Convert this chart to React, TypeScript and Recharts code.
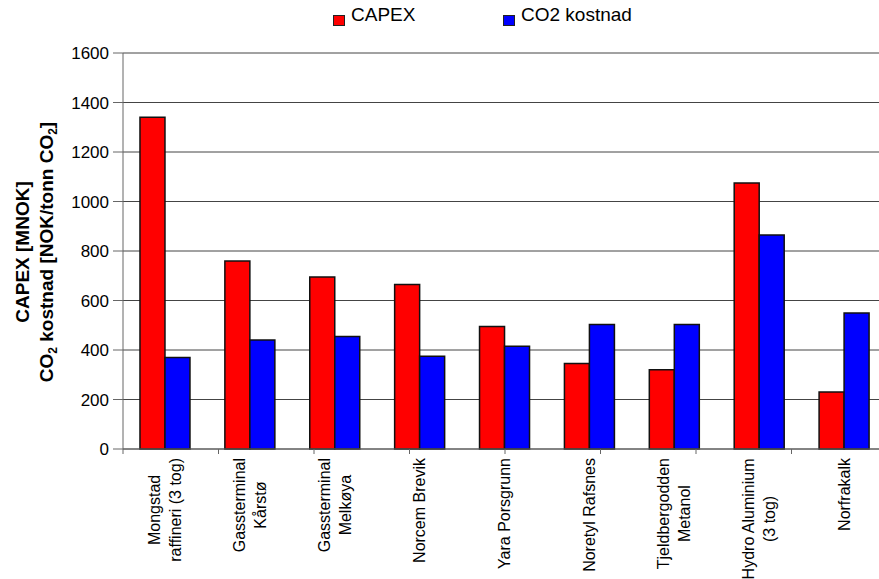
import React from 'react';
import { BarChart, Bar, XAxis, YAxis, CartesianGrid, Legend } from 'recharts';

const categories = [
  ['Mongstad', 'raffineri (3 tog)'],
  ['Gassterminal', 'Kårstø'],
  ['Gassterminal', 'Melkøya'],
  ['Norcem Brevik'],
  ['Yara Porsgrunn'],
  ['Noretyl Rafsnes'],
  ['Tjeldbergodden', 'Metanol'],
  ['Hydro Aluminium', '(3 tog)'],
  ['Norfrakalk'],
];

const capex = [1340, 760, 695, 665, 495, 345, 320, 1075, 230];
const co2Cost = [370, 440, 455, 375, 415, 503, 503, 865, 550];

const yTicks = [0, 200, 400, 600, 800, 1000, 1200, 1400, 1600];
const boundaryTicks = [0, 1, 2, 3, 4, 5, 6, 7, 8, 9];

const FONT = '"Liberation Sans", Arial, sans-serif';

const data = categories.map((lines, i) => ({
  name: lines.join(' '),
  idx: i,
  CAPEX: capex[i],
  'CO2 kostnad': co2Cost[i],
}));

let ctx: CanvasRenderingContext2D | null = null;
function measure(text: string, size: number) {
  if (!ctx) ctx = document.createElement('canvas').getContext('2d');
  if (!ctx) return text.length * size * 0.5;
  ctx.font = `${size}px ${FONT}`;
  return ctx.measureText(text).width;
}

const EmptyTick = () => <g />;

const CategoryTick = (props: any) => {
  const { x, y, payload } = props;
  const lines = categories[payload.index] ?? [payload.value];
  const size = 16;
  const maxW = Math.max(...lines.map((l) => measure(l, size)));
  const cy = y + maxW / 2;
  return (
    <g>
      {lines.map((l, i) => {
        const bx = x + 5 + (i - (lines.length - 1) / 2) * 21;
        return (
          <text
            key={i}
            x={bx}
            y={cy}
            transform={`rotate(-90, ${bx}, ${cy})`}
            textAnchor="middle"
            fontSize={size}
            fontFamily={FONT}
            fill="#000"
          >
            {l}
          </text>
        );
      })}
    </g>
  );
};

const YLabel = () => (
  <g fontFamily={FONT} fontWeight="bold" fontSize={19} fill="#000">
    <text x={29} y={252} transform="rotate(-90, 29, 252)" textAnchor="middle">
      CAPEX [MNOK]
    </text>
    <text x={53} y={252} transform="rotate(-90, 53, 252)" textAnchor="middle">
      CO<tspan fontSize={12} dy={4}>2</tspan>
      <tspan dy={-4}> kostnad [NOK/tonn CO</tspan>
      <tspan fontSize={12} dy={4}>2</tspan>
      <tspan dy={-4}>]</tspan>
    </text>
  </g>
);

const LegendContent = () => (
  <div style={{ position: 'relative', height: 30, fontFamily: FONT, fontSize: 19 }}>
    <div style={{ position: 'absolute', left: 333, top: 15, width: 10, height: 9, background: '#ff0000', border: '1.5px solid #222' }} />
    <div style={{ position: 'absolute', left: 351, top: 4, lineHeight: '22px' }}>CAPEX</div>
    <div style={{ position: 'absolute', left: 503, top: 15, width: 10, height: 9, background: '#0000ff', border: '1.5px solid #222' }} />
    <div style={{ position: 'absolute', left: 521, top: 4, lineHeight: '22px' }}>CO2 kostnad</div>
  </div>
);

export default function App() {
  return (
    <div style={{ position: 'absolute', left: 0, top: 0, width: 879, height: 579, overflow: 'hidden', background: '#fff' }}>
      <BarChart
        width={900}
        height={579}
        data={data}
        margin={{ top: 17, right: 13, left: 53, bottom: 0 }}
        barGap={0}
        barCategoryGap="20%"
      >
        <Legend
          verticalAlign="top"
          height={36}
          content={LegendContent}
          wrapperStyle={{ top: 0, left: 0, width: 900 }}
        />
        <CartesianGrid vertical={false} stroke="#444" strokeWidth={1} />
        <XAxis
          xAxisId="bounds"
          type="number"
          domain={[0, 9]}
          ticks={boundaryTicks}
          height={1}
          tick={<EmptyTick />}
          tickSize={5}
          stroke="#666"
          allowDataOverflow
        />
        <XAxis
          xAxisId="cat"
          dataKey="name"
          interval={0}
          height={129}
          axisLine={false}
          tickLine={false}
          tick={<CategoryTick />}
        />
        <YAxis
          domain={[0, 1600]}
          ticks={yTicks}
          width={70}
          tickSize={10}
          tickMargin={4}
          stroke="#666"
          tick={{ fill: '#000', fontSize: 17, fontFamily: FONT }}
          label={<YLabel />}
        />
        <Bar xAxisId="cat" dataKey="CAPEX" fill="#ff0000" stroke="#111" strokeWidth={1.5} isAnimationActive={false} />
        <Bar xAxisId="cat" dataKey="CO2 kostnad" fill="#0000ff" stroke="#111" strokeWidth={1.5} isAnimationActive={false} />
      </BarChart>
    </div>
  );
}
